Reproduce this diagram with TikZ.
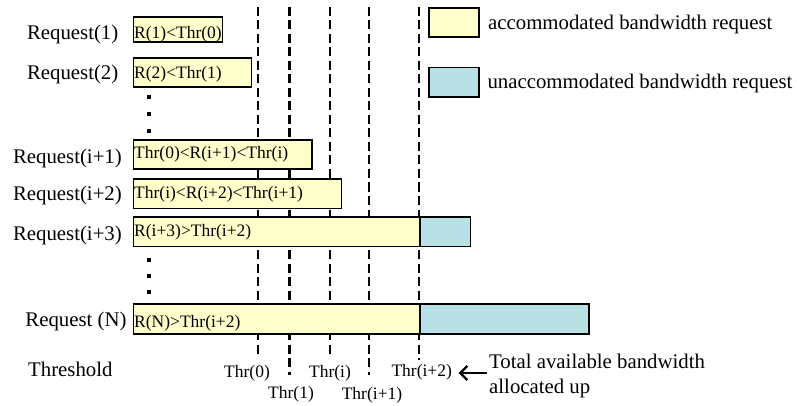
\documentclass[tikz,border=0pt]{standalone}
\usepackage{fontspec}
\setmainfont{Liberation Serif}
\usetikzlibrary{arrows.meta}
\definecolor{accY}{RGB}{255,255,204}
\definecolor{accB}{RGB}{185,224,228}
\begin{document}
\begin{tikzpicture}[x=1pt,y=-1pt,
  lbl/.style={font=\fontsize{20.8}{25.2}\selectfont, inner sep=0pt},
  smalltxt/.style={font=\fontsize{17.5}{21}\selectfont, inner sep=0pt},
  reqbox/.style={draw=black, line width=1.7pt, fill=accY, inner sep=0pt, anchor=north west},
  unbox/.style={draw=black, line width=1.7pt, fill=accB, inner sep=0pt, anchor=north west},
  thrline/.style={line width=2.2pt, dash pattern=on 9pt off 4.5pt},
  dotsq/.style={fill=black, minimum size=4pt, inner sep=0pt},
  arr/.style={line width=2.2pt, -{Straight Barb[length=7pt,width=14pt]}}
]
\useasboundingbox (0,0) rectangle (797,406);

% threshold dashed lines
\coordinate (l0t) at (258.3,7);   \coordinate (l0b) at (258.3,357);
\coordinate (l1t) at (289.5,7);   \coordinate (l1b) at (289.5,375);
\coordinate (l2t) at (330,7);     \coordinate (l2b) at (330,357);
\coordinate (l3t) at (368.8,7);   \coordinate (l3b) at (368.8,375);
\coordinate (l4t) at (419.3,7);   \coordinate (l4b) at (419.3,360);
\draw[thrline] (l0t) -- (l0b);
\draw[thrline] (l1t) -- (l1b);
\draw[thrline] (l2t) -- (l2b);
\draw[thrline] (l3t) -- (l3b);
\draw[thrline] (l4t) -- (l4b);

% request boxes
\node[reqbox, minimum width=89pt, minimum height=25pt] (b1) at (132.5,16) {};
\node[reqbox, minimum width=118pt, minimum height=29pt] (b2) at (132.5,57) {};
\node[reqbox, minimum width=178.5pt, minimum height=29.3pt] (bi1) at (132.5,139) {};
\node[reqbox, minimum width=208.2pt, minimum height=29.4pt] (bi2) at (132.5,178.3) {};
\node[reqbox, minimum width=286.8pt, minimum height=29.7pt] (bi3) at (132.5,216) {};
\node[unbox, minimum width=50.2pt, minimum height=29.7pt] (ui3) at (419.3,216) {};
\node[reqbox, minimum width=286.8pt, minimum height=30pt] (bN) at (132.5,303.3) {};
\node[unbox, minimum width=169pt, minimum height=30pt] (uN) at (419.3,303.3) {};

% texts in boxes
\node[smalltxt, anchor=base west] (t1) at (134,38.3) {R(1)<Thr(0)};
\node[smalltxt, anchor=base west] (t2) at (134,79) {R(2)<Thr(1)};
\node[smalltxt, anchor=base west] (ti1) at (134,158.3) {Thr(0)<R(i+1)<Thr(i)};
\node[smalltxt, anchor=base west] (ti2) at (134,198.3) {Thr(i)<R(i+2)<Thr(i+1)};
\node[smalltxt, anchor=base west] (ti3) at (134,236.7) {R(i+3)>Thr(i+2)};
\node[smalltxt, anchor=base west] (tN) at (134,327.3) {R(N)>Thr(i+2)};

% request labels
\node[lbl, anchor=base east] (r1) at (118.5,40) {Request(1)};
\node[lbl, anchor=base east] (r2) at (118.5,80) {Request(2)};
\node[lbl, anchor=base east] (ri1) at (122,163.3) {Request(i+1)};
\node[lbl, anchor=base east] (ri2) at (122,200.7) {Request(i+2)};
\node[lbl, anchor=base east] (ri3) at (122,240) {Request(i+3)};
\node[lbl, anchor=base east] (rN) at (126.7,326) {Request (N)};
\node[lbl, anchor=base west] (thr) at (28,376) {Threshold};

% vertical dots
\node[dotsq] (d1) at (149,97.3) {};
\node[dotsq] (d2) at (149,114) {};
\node[dotsq] (d3) at (149,130.7) {};
\node[dotsq] (d4) at (149,260) {};
\node[dotsq] (d5) at (149,276) {};
\node[dotsq] (d6) at (149,292.3) {};

% threshold labels
\node[smalltxt, anchor=base] (thr0) at (247,377) {Thr(0)};
\node[smalltxt, anchor=base] (thr1) at (291,398.5) {Thr(1)};
\node[smalltxt, anchor=base] (thr2) at (330,377) {Thr(i)};
\node[smalltxt, anchor=base] (thr3) at (372,399) {Thr(i+1)};
\node[smalltxt, anchor=base] (thr4) at (421.7,376) {Thr(i+2)};

% total bandwidth note
\node[lbl, align=left, anchor=west] (tot) at (489,376) {Total available bandwidth\\allocated up};
\coordinate (arrT) at ([yshift=3pt]tot.west);
\draw[arr, shorten <=2.3pt, shorten >=6.6pt] (arrT) -- (arrT -| thr4.east);

% legend
\node[reqbox, minimum width=50pt, minimum height=28.5pt] (legY) at (428.3,7.5) {};
\node[unbox, minimum width=50pt, minimum height=29.3pt] (legB) at (428.3,66.7) {};
\node[lbl, anchor=base west] (legYt) at (488,29.3) {accommodated bandwidth request};
\node[lbl, anchor=base west] (legBt) at (487.3,88.3) {unaccommodated bandwidth request};
\end{tikzpicture}
\end{document}
